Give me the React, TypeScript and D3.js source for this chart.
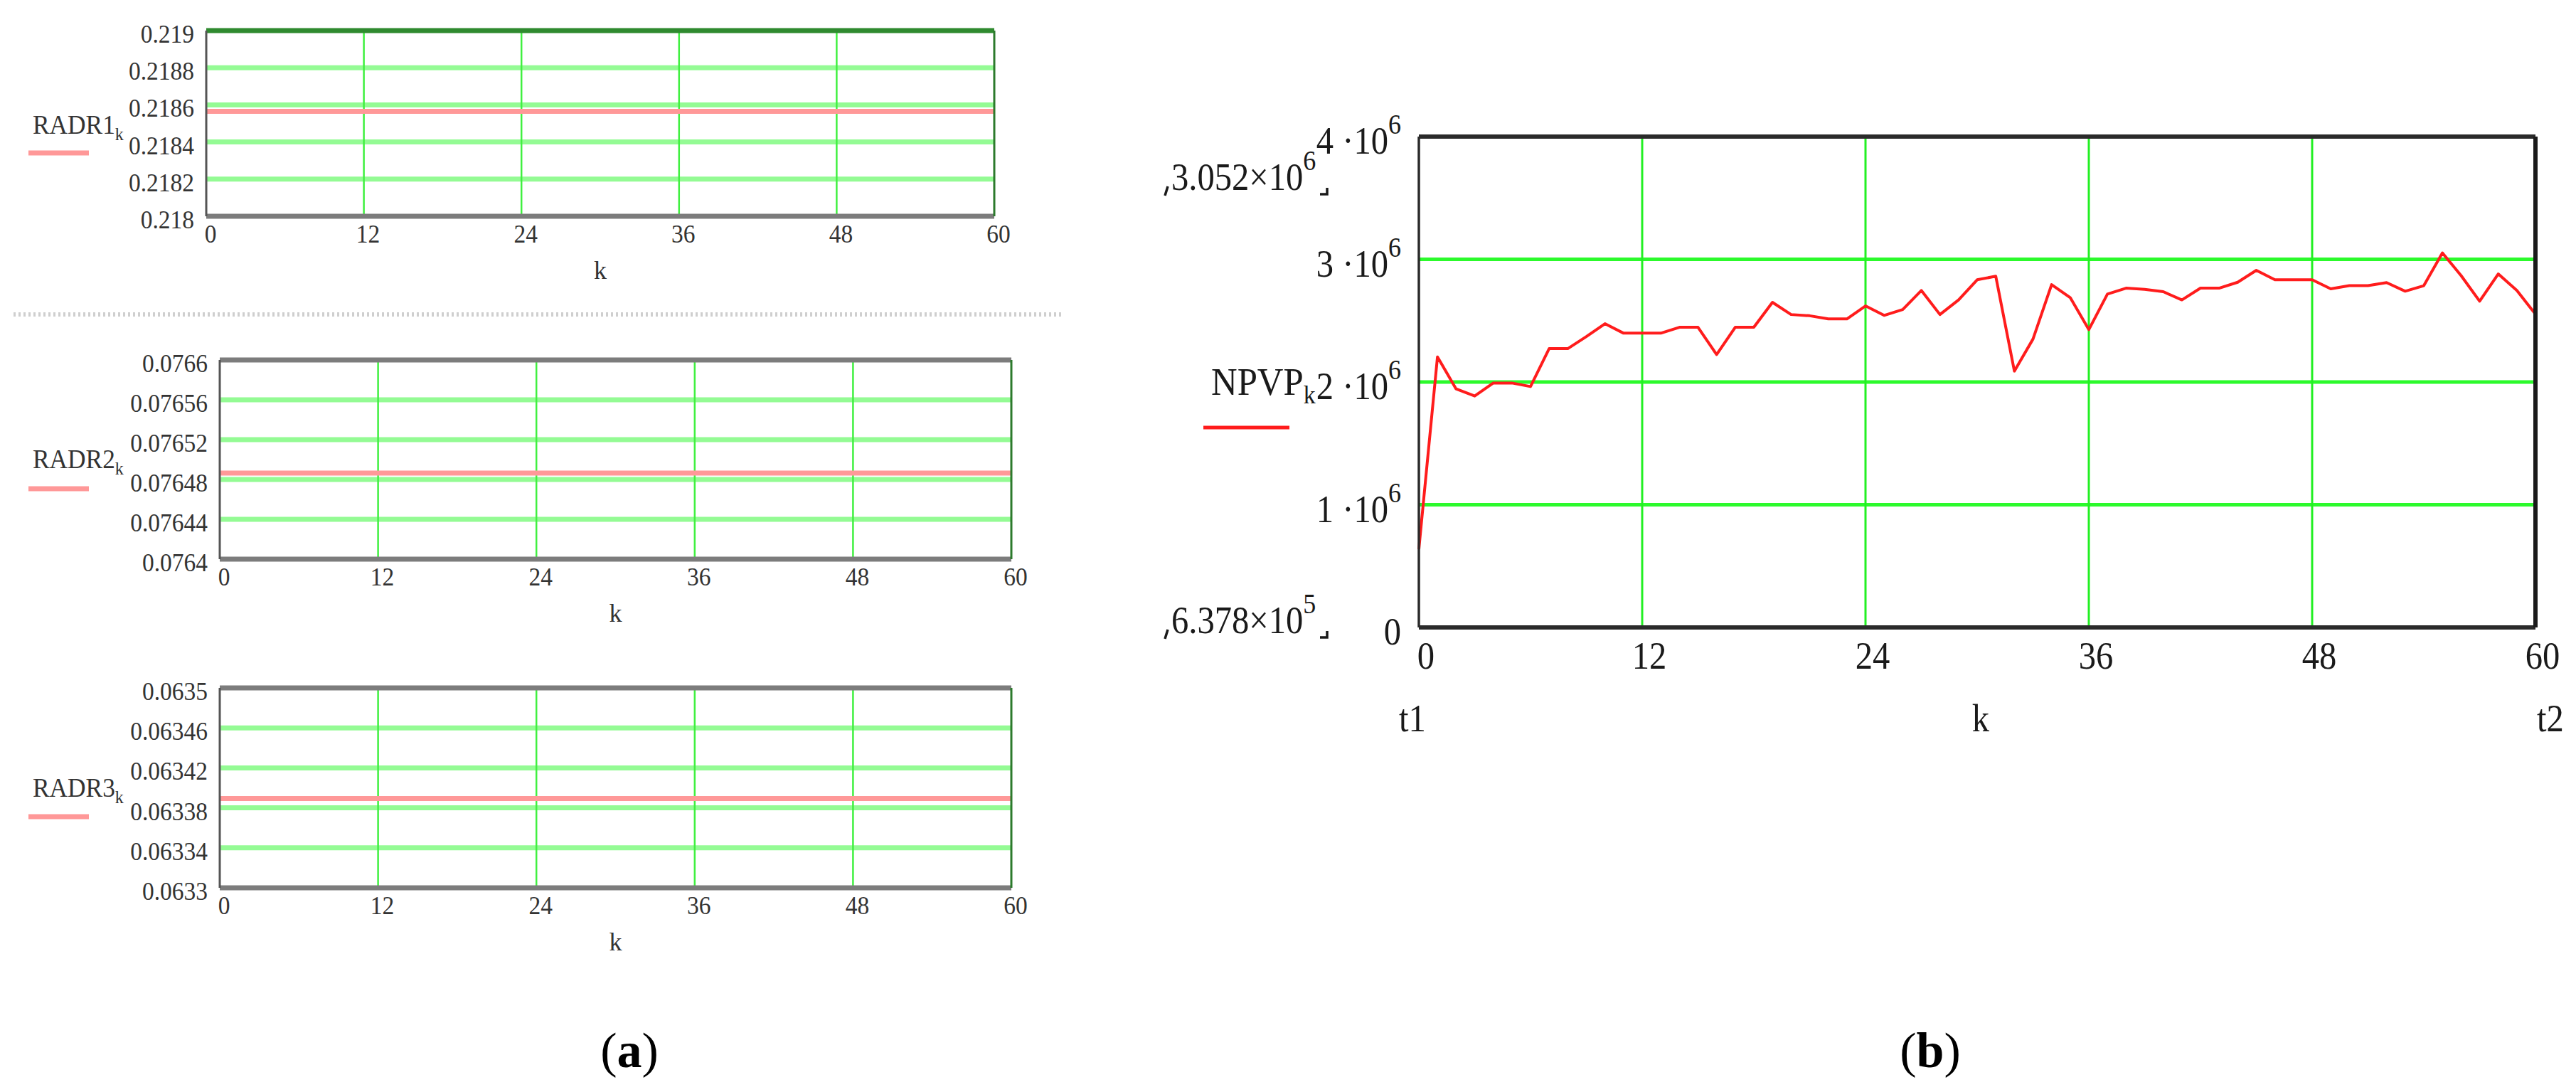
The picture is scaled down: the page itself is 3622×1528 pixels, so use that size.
import React from 'react';
import * as d3 from 'd3';

// x axis (k = month index)
const kValues = d3.range(0, 61);
const kTicks = [0, 12, 24, 36, 48, 60];

// (a) RADR series, flat over all k
const radr1 = [
  0.218565, 0.218565, 0.218565, 0.218565, 0.218565, 0.218565, 0.218565, 0.218565, 0.218565, 0.218565, 0.218565,
  0.218565, 0.218565, 0.218565, 0.218565, 0.218565, 0.218565, 0.218565, 0.218565, 0.218565, 0.218565, 0.218565,
  0.218565, 0.218565, 0.218565, 0.218565, 0.218565, 0.218565, 0.218565, 0.218565, 0.218565, 0.218565, 0.218565,
  0.218565, 0.218565, 0.218565, 0.218565, 0.218565, 0.218565, 0.218565, 0.218565, 0.218565, 0.218565, 0.218565,
  0.218565, 0.218565, 0.218565, 0.218565, 0.218565, 0.218565, 0.218565, 0.218565, 0.218565, 0.218565, 0.218565,
  0.218565, 0.218565, 0.218565, 0.218565, 0.218565, 0.218565,
];
const radr2 = [
  0.0764864, 0.0764864, 0.0764864, 0.0764864, 0.0764864, 0.0764864, 0.0764864, 0.0764864, 0.0764864, 0.0764864, 0.0764864,
  0.0764864, 0.0764864, 0.0764864, 0.0764864, 0.0764864, 0.0764864, 0.0764864, 0.0764864, 0.0764864, 0.0764864, 0.0764864,
  0.0764864, 0.0764864, 0.0764864, 0.0764864, 0.0764864, 0.0764864, 0.0764864, 0.0764864, 0.0764864, 0.0764864, 0.0764864,
  0.0764864, 0.0764864, 0.0764864, 0.0764864, 0.0764864, 0.0764864, 0.0764864, 0.0764864, 0.0764864, 0.0764864, 0.0764864,
  0.0764864, 0.0764864, 0.0764864, 0.0764864, 0.0764864, 0.0764864, 0.0764864, 0.0764864, 0.0764864, 0.0764864, 0.0764864,
  0.0764864, 0.0764864, 0.0764864, 0.0764864, 0.0764864, 0.0764864,
];
const radr3 = [
  0.0633893, 0.0633893, 0.0633893, 0.0633893, 0.0633893, 0.0633893, 0.0633893, 0.0633893, 0.0633893, 0.0633893, 0.0633893,
  0.0633893, 0.0633893, 0.0633893, 0.0633893, 0.0633893, 0.0633893, 0.0633893, 0.0633893, 0.0633893, 0.0633893, 0.0633893,
  0.0633893, 0.0633893, 0.0633893, 0.0633893, 0.0633893, 0.0633893, 0.0633893, 0.0633893, 0.0633893, 0.0633893, 0.0633893,
  0.0633893, 0.0633893, 0.0633893, 0.0633893, 0.0633893, 0.0633893, 0.0633893, 0.0633893, 0.0633893, 0.0633893, 0.0633893,
  0.0633893, 0.0633893, 0.0633893, 0.0633893, 0.0633893, 0.0633893, 0.0633893, 0.0633893, 0.0633893, 0.0633893, 0.0633893,
  0.0633893, 0.0633893, 0.0633893, 0.0633893, 0.0633893, 0.0633893,
];

const radr1Ticks = [0.218, 0.2182, 0.2184, 0.2186, 0.2188, 0.219];
const radr1Labels = ['0.218', '0.2182', '0.2184', '0.2186', '0.2188', '0.219'];
const radr2Ticks = [0.0764, 0.07644, 0.07648, 0.07652, 0.07656, 0.0766];
const radr2Labels = ['0.0764', '0.07644', '0.07648', '0.07652', '0.07656', '0.0766'];
const radr3Ticks = [0.0633, 0.06334, 0.06338, 0.06342, 0.06346, 0.0635];
const radr3Labels = ['0.0633', '0.06334', '0.06338', '0.06342', '0.06346', '0.0635'];

// (b) NPVP series
const npvp = [
  637800, 2205000, 1944000, 1886000, 1992000, 1992000, 1963000, 2272000, 2272000, 2370000, 2475000,
  2398000, 2398000, 2398000, 2446000, 2446000, 2224000, 2446000, 2446000, 2649000, 2550000,
  2540000, 2514000, 2514000, 2620000, 2543000, 2591000, 2746000, 2550000, 2669000, 2833000,
  2862000, 2089000, 2350000, 2794000, 2688000, 2427000, 2717000, 2765000, 2755000, 2736000,
  2669000, 2765000, 2765000, 2813000, 2910000, 2833000, 2833000, 2833000, 2759000, 2785000,
  2785000, 2810000, 2740000, 2785000, 3052000, 2868000, 2659000, 2881000, 2746000, 2553000,
];
const npvpTicks = [0, 1e6, 2e6, 3e6, 4e6];
const npvpMantissa = ['0', '1', '2', '3', '4'];

const serif = "'Liberation Serif', 'Times New Roman', serif";

type TxtProps = {
  x: number;
  y: number;
  size: number;
  sx?: number;
  anchor?: 'start' | 'middle' | 'end';
  fill?: string;
  weight?: string;
  children: React.ReactNode;
};

const Txt = ({ x, y, size, sx = 1, anchor = 'start', fill = '#222', weight, children }: TxtProps) => (
  <text
    transform={`translate(${x},${y}) scale(${sx},1)`}
    textAnchor={anchor}
    fontSize={size}
    fontFamily={serif}
    fontWeight={weight}
    fill={fill}
  >
    {children}
  </text>
);

type Box = { left: number; right: number; top: number; bottom: number };

const PanelA = ({
  box,
  name,
  values,
  ticks,
  labels,
  legendY,
  legendLineY,
  topStroke,
}: {
  box: Box;
  name: string;
  values: number[];
  ticks: number[];
  labels: string[];
  legendY: number;
  legendLineY: number;
  topStroke: string;
}) => {
  const x = d3.scaleLinear().domain([0, 60]).range([box.left, box.right]);
  const y = d3.scaleLinear().domain([ticks[0], ticks[ticks.length - 1]]).range([box.bottom, box.top]);
  const line = d3
    .line<number>()
    .x((_, i) => x(kValues[i]))
    .y((d) => y(d));

  return (
    <g>
      {ticks.slice(1, -1).map((t) => (
        <line key={t} x1={box.left} x2={box.right} y1={y(t)} y2={y(t)} stroke="#94fb94" strokeWidth={7} />
      ))}
      {kTicks.slice(1, -1).map((t) => (
        <line key={t} x1={x(t)} x2={x(t)} y1={box.top} y2={box.bottom} stroke="#40f040" strokeWidth={2.5} />
      ))}
      <path d={line(values) || ''} fill="none" stroke="#ff9898" strokeWidth={7} />

      {/* frame */}
      <line x1={box.left} x2={box.right} y1={box.top} y2={box.top} stroke={topStroke} strokeWidth={7} />
      <line x1={box.left} x2={box.right} y1={box.bottom} y2={box.bottom} stroke="#7c7c7c" strokeWidth={7} />
      <line x1={box.left} x2={box.left} y1={box.top} y2={box.bottom} stroke="#555" strokeWidth={3} />
      <line x1={box.right} x2={box.right} y1={box.top} y2={box.bottom} stroke="#2c7a2c" strokeWidth={3} />

      {ticks.map((t, i) => (
        <Txt key={t} x={box.left - 17} y={y(t) + 17} size={36} sx={0.93} anchor="end" fill="#333">
          {labels[i]}
        </Txt>
      ))}
      {kTicks.map((t) => (
        <Txt key={t} x={x(t) + 6} y={box.bottom + 37} size={36} sx={0.93} anchor="middle" fill="#333">
          {t}
        </Txt>
      ))}
      <Txt x={(box.left + box.right) / 2} y={box.bottom + 88} size={36} anchor="middle" fill="#333">
        k
      </Txt>

      {/* legend */}
      <Txt x={46} y={legendY} size={38} sx={0.93} fill="#333">
        {name}
        <tspan fontSize={26} dy={9}>
          k
        </tspan>
      </Txt>
      <line x1={40} x2={125} y1={legendLineY} y2={legendLineY} stroke="#ff9898" strokeWidth={7} />
    </g>
  );
};

const PanelB = () => {
  const box: Box = { left: 1995, right: 3565, top: 192, bottom: 882 };
  const x = d3.scaleLinear().domain([0, 60]).range([box.left, box.right]);
  const y = d3.scaleLinear().domain([0, 4e6]).range([box.bottom, box.top]);
  const line = d3
    .line<number>()
    .x((_, i) => x(kValues[i]))
    .y((d) => y(d));
  const fs = 54;
  const sx = 0.9;

  return (
    <g>
      {npvpTicks.slice(1, -1).map((t) => (
        <line key={t} x1={box.left} x2={box.right} y1={y(t)} y2={y(t)} stroke="#2cfa2c" strokeWidth={5} />
      ))}
      {kTicks.slice(1, -1).map((t) => (
        <line key={t} x1={x(t)} x2={x(t)} y1={box.top} y2={box.bottom} stroke="#22f022" strokeWidth={3} />
      ))}
      <path d={line(npvp) || ''} fill="none" stroke="#ff1c1c" strokeWidth={4} strokeLinejoin="round" />

      <line x1={box.left} x2={box.right} y1={box.top} y2={box.top} stroke="#2a2a2a" strokeWidth={6} />
      <line x1={box.left} x2={box.right} y1={box.bottom} y2={box.bottom} stroke="#2a2a2a" strokeWidth={6} />
      <line x1={box.left} x2={box.left} y1={box.top} y2={box.bottom} stroke="#2a2a2a" strokeWidth={3.5} />
      <line x1={box.right} x2={box.right} y1={box.top} y2={box.bottom} stroke="#1a1a1a" strokeWidth={6} />

      {npvpTicks.map((t, i) => (
        <Txt key={t} x={1970} y={y(t) + 24} size={fs} sx={sx} anchor="end" fill="#1a1a1a">
          {t === 0 ? (
            '0'
          ) : (
            <>
              {npvpMantissa[i]} ·10
              <tspan fontSize={40} dy={-28}>
                6
              </tspan>
            </>
          )}
        </Txt>
      ))}
      {kTicks.map((t) => (
        <Txt key={t} x={x(t) + 10} y={940} size={fs} sx={sx} anchor="middle" fill="#1a1a1a">
          {t}
        </Txt>
      ))}
      <Txt x={1986} y={1028} size={fs} sx={sx} anchor="middle" fill="#1a1a1a">
        t1
      </Txt>
      <Txt x={(box.left + box.right) / 2 + 5} y={1028} size={fs} sx={sx} anchor="middle" fill="#1a1a1a">
        k
      </Txt>
      <Txt x={3586} y={1028} size={fs} sx={sx} anchor="middle" fill="#1a1a1a">
        t2
      </Txt>

      {/* range markers */}
      <Txt x={1647} y={267} size={fs} sx={sx} fill="#1a1a1a">
        {(d3.max(npvp) as number / 1e6).toFixed(3)}×10
        <tspan fontSize={40} dy={-28}>
          6
        </tspan>
      </Txt>
      <Txt x={1647} y={890} size={fs} sx={sx} fill="#1a1a1a">
        {(d3.min(npvp) as number / 1e5).toFixed(3)}×10
        <tspan fontSize={40} dy={-28}>
          5
        </tspan>
      </Txt>
      {[267, 890].map((b) => (
        <g key={b} stroke="#1a1a1a" strokeWidth={3.5} fill="none">
          <path d={`M1642,${b - 5} L1638,${b + 8}`} />
          <path d={`M1856,${b + 6} L1866,${b + 6} L1866,${b - 3}`} />
        </g>
      ))}

      {/* legend */}
      <Txt x={1703} y={555} size={fs} sx={0.94} fill="#1a1a1a">
        NPVP
        <tspan fontSize={36} dy={12}>
          k
        </tspan>
      </Txt>
      <line x1={1692} x2={1813} y1={601} y2={601} stroke="#ff1c1c" strokeWidth={5} />
    </g>
  );
};

const App = () => (
  <div style={{ position: 'absolute', left: 0, top: 0, width: 3622, height: 1528, overflow: 'hidden' }}>
    <svg width={3622} height={1528} viewBox="0 0 3622 1528">
      <rect width={3622} height={1528} fill="#fff" />
      <PanelA
        box={{ left: 290, right: 1398, top: 43, bottom: 304 }}
        name="RADR1"
        values={radr1}
        ticks={radr1Ticks}
        labels={radr1Labels}
        legendY={188}
        legendLineY={215}
        topStroke="#2f8a2f"
      />
      <line x1={19} x2={1496} y1={442} y2={442} stroke="#cfcfcf" strokeWidth={6} strokeDasharray="3,4" />
      <PanelA
        box={{ left: 309, right: 1422, top: 506, bottom: 786 }}
        name="RADR2"
        values={radr2}
        ticks={radr2Ticks}
        labels={radr2Labels}
        legendY={658}
        legendLineY={687}
        topStroke="#7c7c7c"
      />
      <PanelA
        box={{ left: 309, right: 1422, top: 967, bottom: 1248 }}
        name="RADR3"
        values={radr3}
        ticks={radr3Ticks}
        labels={radr3Labels}
        legendY={1120}
        legendLineY={1148}
        topStroke="#7c7c7c"
      />
      <PanelB />

      {/* sub-figure captions */}
      <Txt x={885} y={1500} size={70} anchor="middle" fill="#000">
        (<tspan fontWeight="bold">a</tspan>)
      </Txt>
      <Txt x={2714} y={1500} size={70} anchor="middle" fill="#000">
        (<tspan fontWeight="bold">b</tspan>)
      </Txt>
    </svg>
  </div>
);

export default App;
